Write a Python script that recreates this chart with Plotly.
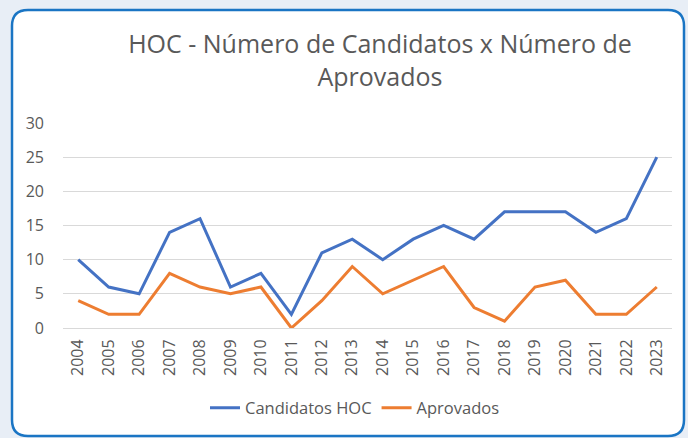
import plotly.graph_objects as go

years = [str(y) for y in range(2004, 2024)]
candidatos = [10, 6, 5, 14, 16, 6, 8, 2, 11, 13, 10, 13, 15, 13, 17, 17, 17, 14, 16, 25]
aprovados = [4, 2, 2, 8, 6, 5, 6, 0, 4, 9, 5, 7, 9, 3, 1, 6, 7, 2, 2, 6]
y_ticks = [0, 5, 10, 15, 20, 25, 30]

W, H = 688, 438
L, R, T, B = 63, 16, 123, 110
PW = W - L - R
PH = H - T - B

def px(x):
    return (x - L) / PW

def py(y):
    return (H - B - y) / PH

def card_path(x0, y0, x1, y1, r):
    pts = [
        f"M {px(x0 + r)},{py(y0)}",
        f"L {px(x1 - r)},{py(y0)}",
        f"Q {px(x1)},{py(y0)} {px(x1)},{py(y0 + r)}",
        f"L {px(x1)},{py(y1 - r)}",
        f"Q {px(x1)},{py(y1)} {px(x1 - r)},{py(y1)}",
        f"L {px(x0 + r)},{py(y1)}",
        f"Q {px(x0)},{py(y1)} {px(x0)},{py(y1 - r)}",
        f"L {px(x0)},{py(y0 + r)}",
        f"Q {px(x0)},{py(y0)} {px(x0 + r)},{py(y0)}",
        "Z",
    ]
    return " ".join(pts)

font_family = "Open Sans, Noto Sans, sans-serif"
gray = "#595959"

fig = go.Figure()
fig.add_trace(go.Scatter(x=years, y=candidatos, mode="lines", name="Candidatos HOC",
                         line=dict(color="#4472C4", width=3)))
fig.add_trace(go.Scatter(x=years, y=aprovados, mode="lines", name="Aprovados",
                         line=dict(color="#ED7D31", width=3)))

fig.update_layout(
    width=W, height=H,
    margin=dict(l=L, r=R, t=T, b=B),
    paper_bgcolor="#e8eef6",
    plot_bgcolor="rgba(0,0,0,0)",
    font=dict(family=font_family, color=gray, size=16),
    title=dict(text="HOC - Número de Candidatos x Número de<br>Aprovados",
               x=380 / W, xref="container", xanchor="center",
               y=1 - 53 / H, yref="container", yanchor="top",
               font=dict(size=25, color=gray, family=font_family)),
    showlegend=True,
    legend=dict(orientation="h", x=px(355), xanchor="center", y=py(408), yanchor="middle",
                font=dict(size=16.5, color=gray), bgcolor="rgba(0,0,0,0)"),
    shapes=[dict(type="path", xref="paper", yref="paper", layer="below",
                 path=card_path(12, 10, 684, 436, 16),
                 fillcolor="white", line=dict(color="#1a75c4", width=2.5))],
)
fig.update_xaxes(type="category", range=[-0.5, 19.5], tickangle=-90, showgrid=False,
                 showline=True, linecolor="#d9d9d9", linewidth=1, ticks="",
                 ticklabelstandoff=4,
                 tickfont=dict(size=16, color=gray))
fig.update_yaxes(range=[0, 30], tickvals=y_ticks, showgrid=True, gridcolor="#d9d9d9",
                 gridwidth=1, zeroline=False, showline=False, ticks="",
                 ticklabelstandoff=18, tickfont=dict(size=16, color=gray))

fig.write_html("out.html",
               config={"displayModeBar": False},
               post_script="document.body.style.margin='0';document.body.style.background='#e8eef6';")
